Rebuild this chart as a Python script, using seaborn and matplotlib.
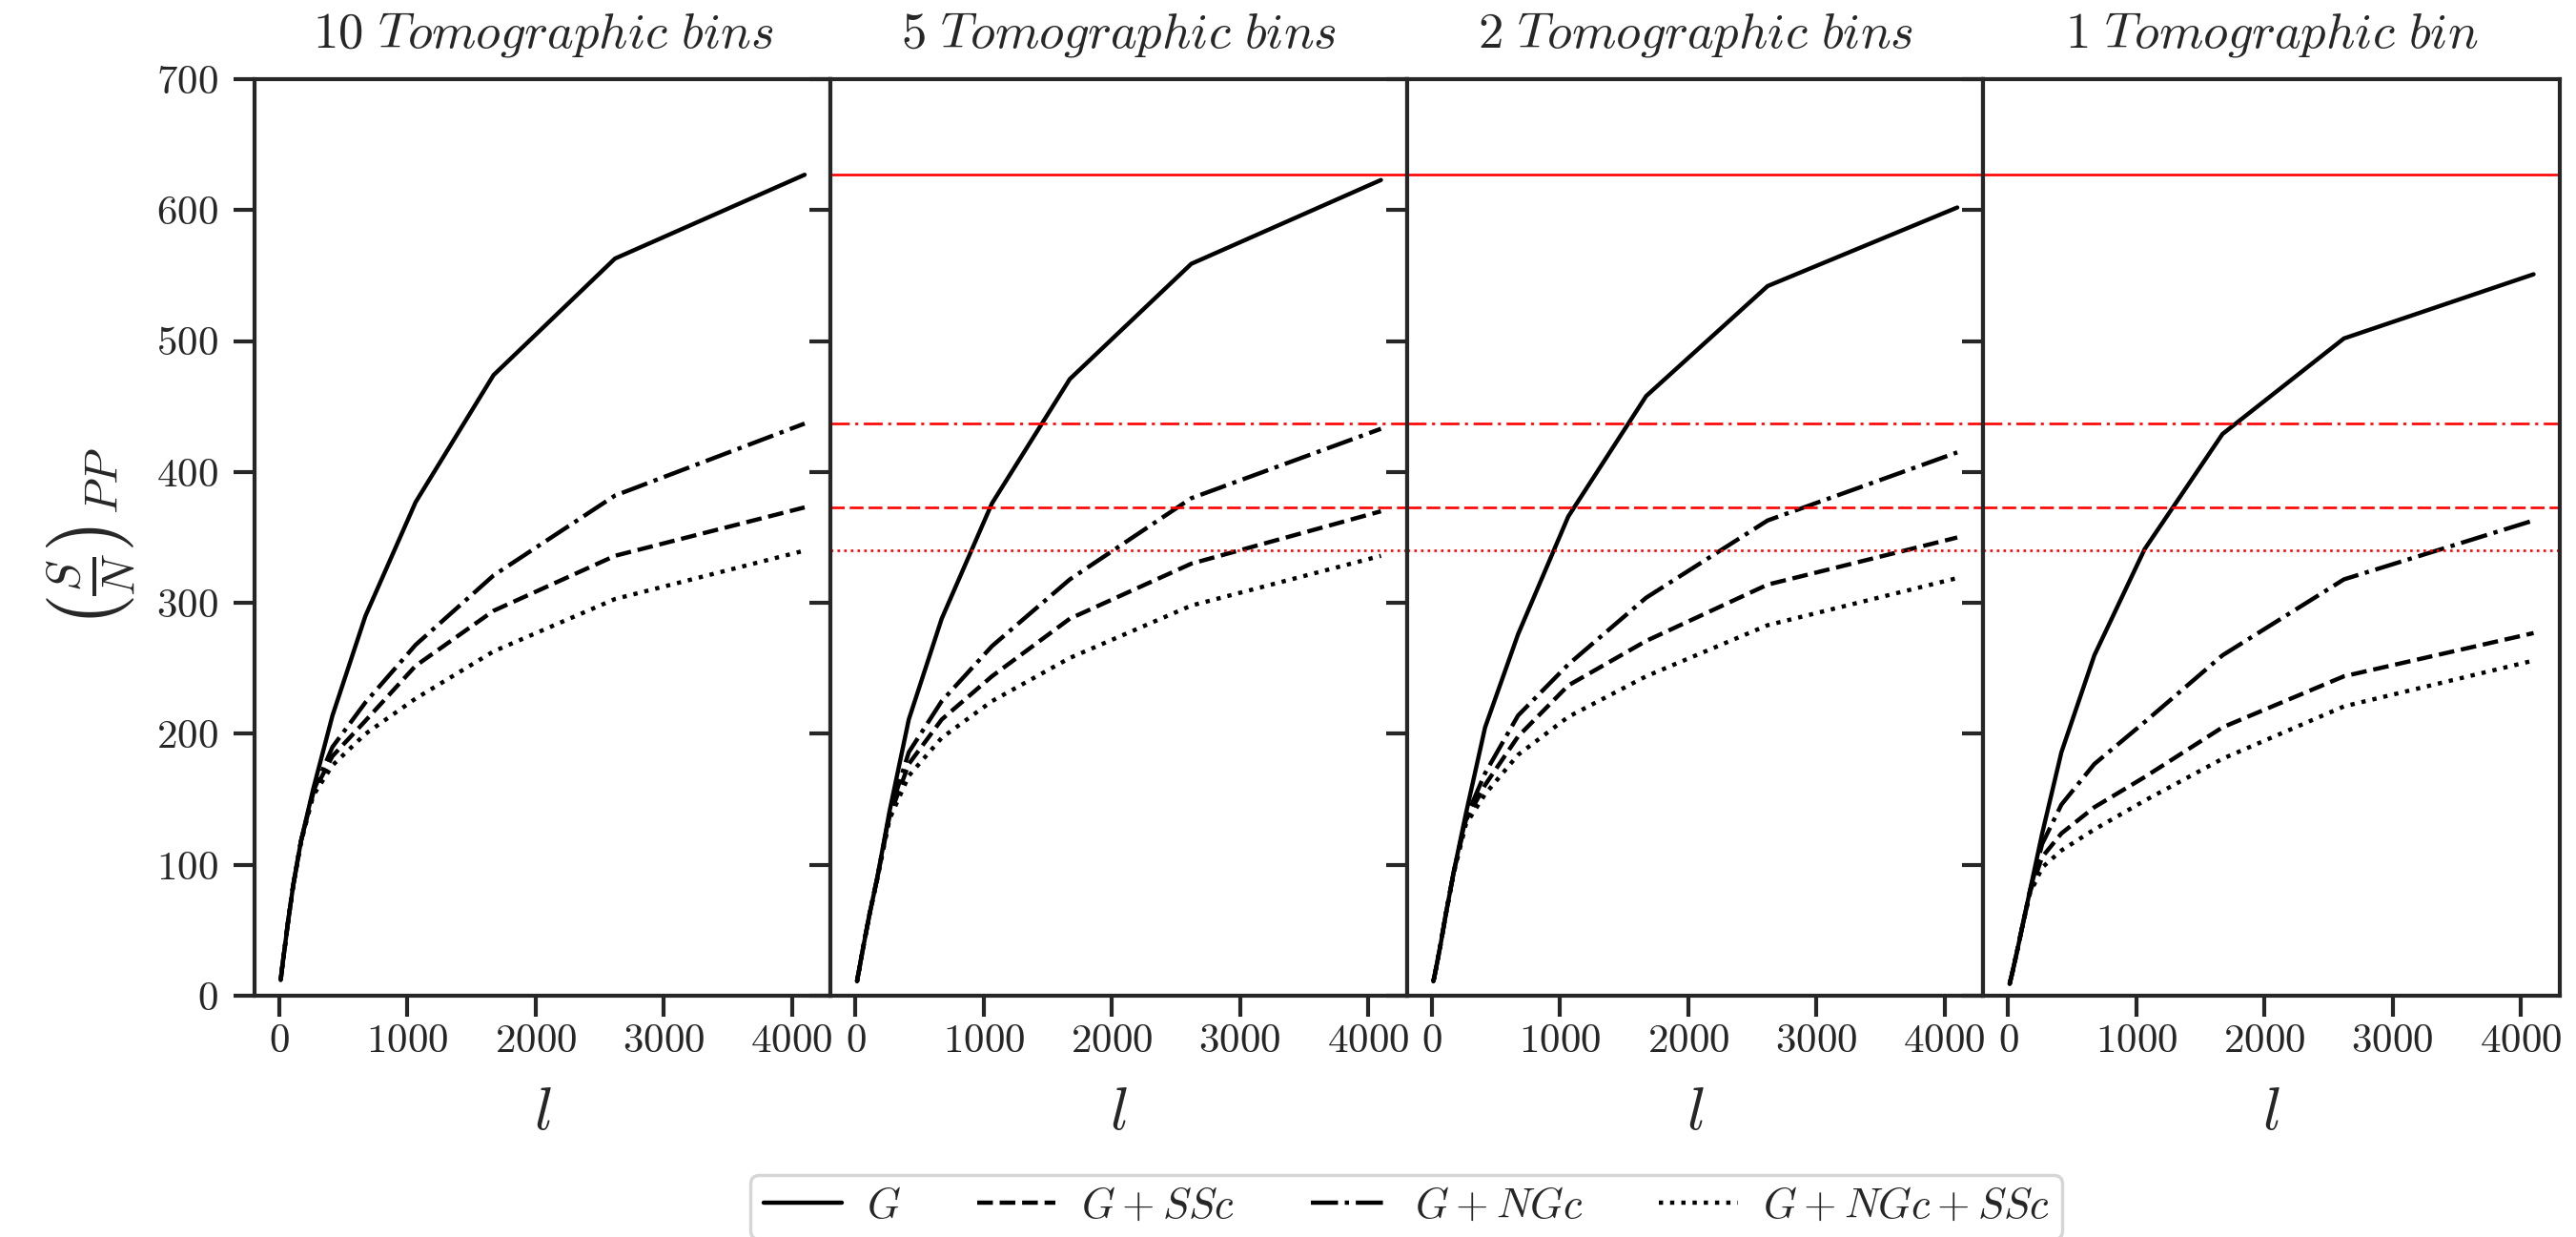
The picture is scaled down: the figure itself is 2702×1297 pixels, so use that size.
import numpy as np
import pandas as pd
import matplotlib
matplotlib.use("Agg")
import matplotlib.pyplot as plt
import seaborn as sns

# ---------------- data ----------------
ell = [11, 18, 28, 44, 69, 108, 169, 265, 415, 672, 1064, 1672, 2620, 4100]

panel_titles = [r"$10\ Tomographic\ bins$", r"$5\ Tomographic\ bins$",
                r"$2\ Tomographic\ bins$", r"$1\ Tomographic\ bin$"]
series_labels = [r"$G$", r"$G+SSc$", r"$G+NGc$", r"$G+NGc+SSc$"]

# 10 tomographic bins
g_10      = [12, 18, 26, 38, 57, 84, 118, 158, 214, 290, 377, 474, 563, 627]
gssc_10   = [12, 18, 26, 38, 57, 84, 118, 155, 183, 210, 252, 294, 336, 373]
gngc_10   = [12, 18, 26, 38, 57, 84, 118, 156, 190, 224, 268, 321, 382, 437]
gall_10   = [12, 18, 26, 38, 57, 84, 117, 153, 176, 200, 227, 263, 303, 340]
# 5 tomographic bins
g_5       = [11, 15, 20, 29, 42, 62, 90, 141, 211, 288, 376, 471, 559, 623]
gssc_5    = [11, 15, 20, 29, 42, 62, 90, 137, 177, 211, 244, 288, 330, 370]
gngc_5    = [11, 15, 20, 29, 42, 62, 90, 139, 186, 225, 267, 318, 380, 433]
gall_5    = [11, 15, 20, 29, 42, 62, 89, 135, 168, 197, 225, 258, 298, 336]
# 2 tomographic bins
g_2       = [11, 14, 19, 27, 40, 62, 94, 139, 205, 276, 366, 458, 542, 602]
gssc_2    = [11, 14, 19, 27, 40, 62, 94, 134, 161, 198, 237, 271, 314, 350]
gngc_2    = [11, 14, 19, 27, 40, 62, 94, 136, 170, 214, 253, 304, 363, 415]
gall_2    = [11, 14, 19, 27, 40, 62, 93, 131, 154, 184, 213, 244, 283, 319]
# 1 tomographic bin
g_1       = [9, 12, 16, 23, 34, 52, 80, 124, 186, 260, 341, 429, 502, 551]
gssc_1    = [9, 12, 16, 23, 34, 52, 79, 106, 124, 144, 167, 205, 244, 277]
gngc_1    = [9, 12, 16, 23, 34, 52, 80, 116, 146, 177, 209, 260, 318, 363]
gall_1    = [9, 12, 16, 23, 34, 52, 78, 98, 111, 127, 149, 181, 221, 256]

panels = [
    (g_10, gssc_10, gngc_10, gall_10),
    (g_5, gssc_5, gngc_5, gall_5),
    (g_2, gssc_2, gngc_2, gall_2),
    (g_1, gssc_1, gngc_1, gall_1),
]

xticks = [0, 1000, 2000, 3000, 4000]
yticks = [0, 100, 200, 300, 400, 500, 600, 700]

# ---------------- style ----------------
sns.set_style("ticks")
plt.rcParams["font.family"] = "serif"
plt.rcParams["font.serif"] = ["cmr10", "DejaVu Serif"]
plt.rcParams["mathtext.fontset"] = "cm"
plt.rcParams["axes.unicode_minus"] = False
plt.rcParams["axes.formatter.use_mathtext"] = True

black_styles = ["-", "--", "-.", ":"]
red_styles = ["-", (0, (5.5, 2.0)), (0, (7.5, 2.2, 1.2, 2.2)), ":"]
# order in the data tuples: G, G+SSc, G+NGc, G+NGc+SSc

fig, axes = plt.subplots(1, 4, figsize=(27.02, 12.97), dpi=100, sharey=True)
fig.subplots_adjust(left=0.0988, right=0.9937, bottom=0.195, top=0.936, wspace=0)

ref = panels[0]
for i, ax in enumerate(axes):
    for j, vals in enumerate(panels[i]):
        df = pd.DataFrame({"l": ell, "sn": vals})
        sns.lineplot(data=df, x="l", y="sn", ax=ax, color="black",
                     linestyle=black_styles[j], lw=3.2, label=series_labels[j],
                     legend=False, sort=False)
    if i > 0:
        for j in range(4):
            ax.axhline(ref[j][-1], color="red", lw=1.9, linestyle=red_styles[j])
    ax.set_title(panel_titles[i], fontsize=38, pad=24)
    ax.set_xlabel(r"$l$", fontsize=46, labelpad=20)
    ax.set_xticks(xticks)
    ax.set_yticks(yticks)
    ax.set_ylim(0, 700)
    ax.tick_params(axis="both", direction="out", length=15.5, width=3.0,
                   labelsize=31)
    ax.tick_params(axis="y", pad=12)
    ax.tick_params(axis="x", pad=6)
    for sp in ax.spines.values():
        sp.set_visible(True)
        sp.set_linewidth(3.0)
    if i > 0:
        ax.tick_params(axis="y", labelleft=False)
        ax.set_ylabel("")

axes[0].set_ylabel(r"$\left(\frac{S}{N}\right)_{PP}$", fontsize=50, labelpad=14)

handles = axes[0].get_lines()[:4]
leg = fig.legend(handles, series_labels, loc="upper center",
                 bbox_to_anchor=(0.546, 0.050), borderaxespad=0.0, ncol=4,
                 fontsize=32, handlelength=1.85, handletextpad=0.6,
                 columnspacing=1.8, frameon=True, fancybox=True, borderpad=0.3)
leg.get_frame().set_edgecolor("0.8")
leg.get_frame().set_linewidth(2.5)

fig.savefig("out.png", dpi=100)
